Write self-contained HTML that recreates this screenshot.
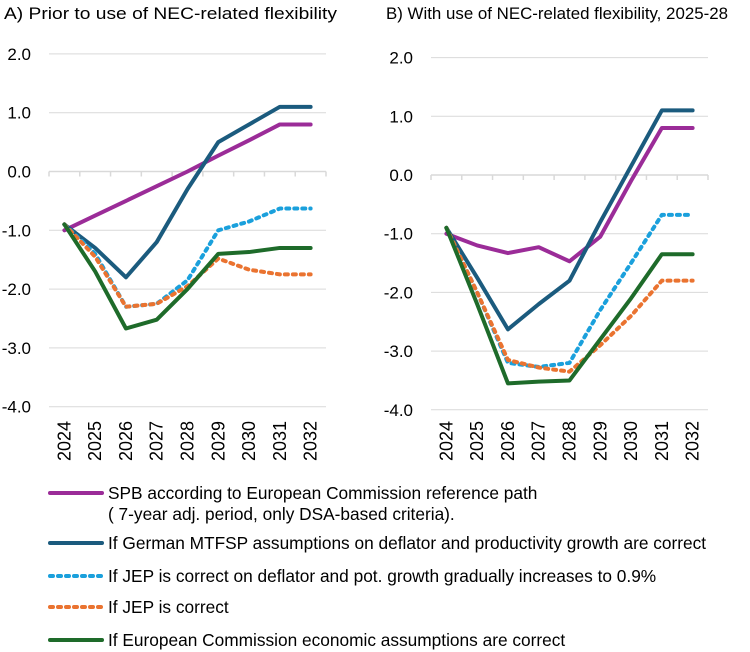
<!DOCTYPE html>
<html><head><meta charset="utf-8"><style>
body{margin:0;background:#fff;width:750px;height:652px;overflow:hidden}
svg{display:block;font-family:"Liberation Sans",sans-serif}
</style></head><body>
<svg id="c" width="750" height="652"></svg>
<script>
const years=["2024","2025","2026","2027","2028","2029","2030","2031","2032"];
const yTicks=[2,1,0,-1,-2,-3,-4];
const seriesNames=["SPB according to European Commission reference path","If German MTFSP assumptions on deflator and productivity growth are correct","If JEP is correct on deflator and pot. growth gradually increases to 0.9%","If JEP is correct","If European Commission economic assumptions are correct"];
const aPurple=[-1.0,-0.75,-0.5,-0.25,0.0,0.27,0.53,0.8,0.8];
const aBlue=[-0.9,-1.3,-1.8,-1.2,-0.3,0.5,0.8,1.1,1.1];
const aLight=[-0.9,-1.4,-2.3,-2.25,-1.85,-1.0,-0.85,-0.63,-0.63];
const aOrange=[-0.9,-1.45,-2.3,-2.25,-1.95,-1.48,-1.67,-1.75,-1.75];
const aGreen=[-0.9,-1.7,-2.67,-2.52,-2.0,-1.4,-1.37,-1.3,-1.3];
const bPurple=[-1.0,-1.2,-1.33,-1.23,-1.47,-1.05,-0.1,0.8,0.8];
const bBlue=[-0.9,-1.75,-2.63,-2.2,-1.8,-0.8,0.15,1.1,1.1];
const bLight=[-0.9,-2.0,-3.2,-3.27,-3.2,-2.3,-1.5,-0.68,-0.68];
const bOrange=[-0.9,-2.0,-3.15,-3.28,-3.35,-2.9,-2.4,-1.8,-1.8];
const bGreen=[-0.9,-2.2,-3.55,-3.52,-3.5,-2.8,-2.1,-1.35,-1.35];

const NS="http://www.w3.org/2000/svg";
const svg=document.getElementById('c');
function el(t,a,p){const e=document.createElementNS(NS,t);for(const k in a)e.setAttribute(k,a[k]);(p||svg).appendChild(e);return e;}
const styles=[
 {c:"#9b2c98",d:null},{c:"#1b5b7e",d:null},{c:"#1aa0dc",d:"3 5"},{c:"#ea7330",d:"3 5"},{c:"#1e6b2a",d:null}];

function panel(name,title,x0,x1,yZero,unit,data,titleX,titleW){
  const g=el('g',{});
  
  
  const t=el('text',{x:titleX,y:19,'font-size':17,fill:'#000',textLength:titleW,lengthAdjust:'spacingAndGlyphs'},g);t.textContent=title;
  
  const bw=(x1-x0)/years.length;
  const xs=i=>x0+bw*(i+0.5);
  const ys=v=>yZero-v*unit;
  yTicks.forEach(v=>{
    const l=el('line',{x1:x0,x2:x1,y1:ys(v),y2:ys(v),stroke:'#d9d9d9','stroke-width':1},g);
    
    const tx=el('text',{x:x0-18,y:ys(v)+6,'font-size':17,'text-anchor':'end',fill:'#000'},g);
    tx.textContent=v.toFixed(1);
    
  });
  const ax=el('line',{x1:x0,x2:x1,y1:ys(0),y2:ys(0),stroke:'#d9d9d9','stroke-width':1.5},g);
  
  for(let i=0;i<=years.length;i++){
    el('line',{x1:x0+bw*i,x2:x0+bw*i,y1:ys(0),y2:ys(0)+5,stroke:'#d9d9d9','stroke-width':1.5},g);
  }
  years.forEach((y,i)=>{
    const tx=el('text',{x:0,y:0,'font-size':18,'text-anchor':'start',fill:'#000',transform:`translate(${xs(i)+6},461) rotate(-90)`},g);
    tx.textContent=y;
    
  });
  data.forEach((arr,k)=>{
    const p=el('polyline',{points:arr.map((v,i)=>xs(i)+','+ys(v)).join(' '),fill:'none',stroke:styles[k].c,'stroke-width':4,'stroke-linejoin':'round','stroke-linecap':'round'},g);
    if(styles[k].d)p.setAttribute('stroke-dasharray',styles[k].d);
    
  });
}
panel('panel-a','A) Prior to use of NEC-related flexibility',49,326,171.5,58.8,[aPurple,aBlue,aLight,aOrange,aGreen],4,333);
panel('panel-b','B) With use of NEC-related flexibility, 2025-28',431,708,175,58.7,[bPurple,bBlue,bLight,bOrange,bGreen],386,342);

const legY=[493,543,576,607,640];
const legText=[["SPB according to European Commission reference path","( 7-year adj. period, only DSA-based criteria)."],[seriesNames[1]],[seriesNames[2]],[seriesNames[3]],[seriesNames[4]]];
legY.forEach((y,k)=>{
  const g=el('g',{});
  
  
  const l=el('line',{x1:50,x2:102,y1:y,y2:y,stroke:styles[k].c,'stroke-width':4,'stroke-linecap':'round'},g);
  if(styles[k].d)l.setAttribute('stroke-dasharray',styles[k].d);
  legText[k].forEach((s,j)=>{
    const t=el('text',{x:108,y:y+6+j*21,'font-size':17.3,fill:'#000'},g);t.textContent=s;
  });
});
</script>
</body></html>
